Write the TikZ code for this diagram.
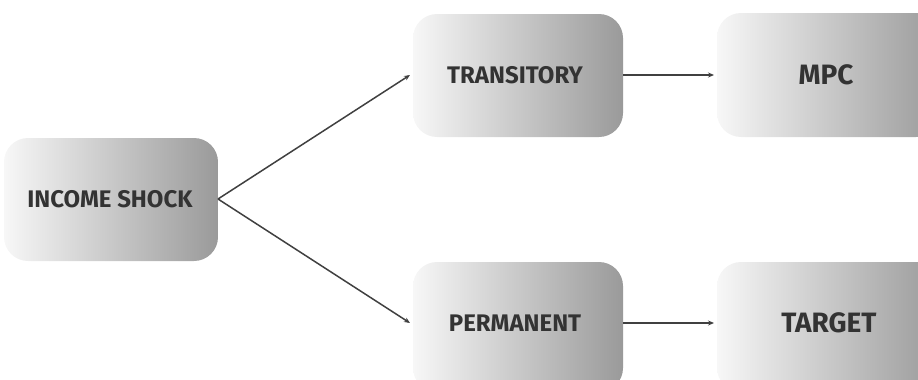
\documentclass[tikz,border=0pt]{standalone}
\usepackage{fontspec}
\setmainfont{Fira Sans}
\usetikzlibrary{arrows.meta}
\definecolor{txt}{HTML}{333333}
\definecolor{boxL}{HTML}{F7F7F7}
\definecolor{boxR}{HTML}{9A9A9A}
\definecolor{arr}{HTML}{404040}
\begin{document}
\begin{tikzpicture}[x=1pt,y=-1pt,
  gbox/.style={rounded corners=24pt, left color=boxL, right color=boxR, draw=none, shading angle=90},
  lbl/.style={text=txt, font=\bfseries\fontsize{24}{28}\selectfont},
  lblbig/.style={text=txt, font=\bfseries\fontsize{28}{32}\selectfont},
  conn/.style={draw=arr, line width=1.5pt, -{Stealth[length=6pt,width=5pt]}}]
\useasboundingbox (0,0) rectangle (918,380);
\begin{scope}
\clip (0,0) rectangle (918,380);
\shade[gbox] (4,138) rectangle (218,261);
\shade[gbox] (413,14) rectangle (623,137);
\shade[gbox] (717,13) rectangle (940,137);
\shade[gbox] (413,262) rectangle (623,392);
\shade[gbox] (717,262) rectangle (940,392);
\end{scope}
\node[lbl] (inc) at (110,199) {INCOME SHOCK};
\node[lbl] (tra) at (515,75) {TRANSITORY};
\node[lblbig] (mpc) at (826,75) {MPC};
\node[lbl] (per) at (515,323) {PERMANENT};
\node[lblbig] (tar) at (829,323) {TARGET};
\coordinate (incE) at (218,199);
\coordinate (traW) at (410,75);
\coordinate (perW) at (410,323);
\coordinate (traE) at (623,75);
\coordinate (mpcW) at (714,75);
\coordinate (perE) at (623,323);
\coordinate (tarW) at (714,323);
\draw[conn] (incE) -- (traW);
\draw[conn] (incE) -- (perW);
\draw[conn] (traE) -- (mpcW);
\draw[conn] (perE) -- (tarW);
\end{tikzpicture}
\end{document}
